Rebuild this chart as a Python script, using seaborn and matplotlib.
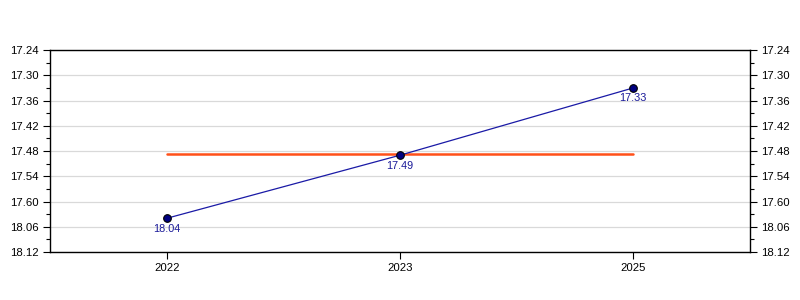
import matplotlib
matplotlib.use("Agg")
import matplotlib.pyplot as plt
import seaborn as sns
import pandas as pd
import numpy as np
from matplotlib.ticker import MultipleLocator

years = ["2022", "2023", "2025"]
times = ["18.04", "17.49", "17.33"]  # min.sec
tick_labels = ["17.24", "17.30", "17.36", "17.42", "17.48", "17.54", "17.60", "18.06", "18.12"]

def to_sec(s):
    m, sec = s.split(".")
    return int(m) * 60 + int(sec)

secs = [to_sec(t) for t in times]
mean_sec = float(np.mean(secs))
tick_vals = [1044 + 6 * i for i in range(len(tick_labels))]

df = pd.DataFrame({"year": years, "sec": secs, "mean": [mean_sec] * len(years)})

sns.set_theme(style="white")
plt.rcParams["font.family"] = ["Liberation Sans", "DejaVu Sans"]

fig = plt.figure(figsize=(8, 3), dpi=100)
ax = fig.add_axes([0.0625, 0.16, 0.875, 0.6733])

sns.lineplot(data=df, x="year", y="mean", ax=ax, color="#ff5019", linewidth=1.8, zorder=2)
sns.lineplot(data=df, x="year", y="sec", ax=ax, color="#1a1aa6", linewidth=0.9,
             marker="o", markersize=5.5, markerfacecolor="#000080", markeredgecolor="#000000",
             markeredgewidth=0.8, zorder=3)

for i, (s, t) in enumerate(zip(secs, times)):
    ax.annotate(t, (i, s), xytext=(0, -7.5), textcoords="offset points",
                ha="center", va="center", fontsize=7.8, color="#1a1a99")

ax.set_xlim(-0.5, 2.5)
ax.set_ylim(1092, 1044)
ax.set_yticks(tick_vals)
ax.set_yticklabels(tick_labels)
ax.yaxis.set_minor_locator(MultipleLocator(3))
ax.set_xlabel("")
ax.set_ylabel("")
ax.grid(axis="y", which="major", color="#d9d9d9", linewidth=0.9)
ax.grid(axis="x", visible=False)
ax.set_axisbelow(True)

for sp in ax.spines.values():
    sp.set_visible(True)
    sp.set_color("black")
    sp.set_linewidth(1.0)

ax.tick_params(axis="y", which="major", left=True, right=True, labelleft=True, labelright=True,
               length=5, width=0.8, color="black", labelsize=8.2, labelcolor="black", pad=3)
ax.tick_params(axis="y", which="minor", left=True, right=True, length=3, width=0.8, color="black")
ax.tick_params(axis="x", which="major", bottom=True, length=5, width=0.8, color="black",
               labelsize=8.2, labelcolor="black", pad=3)

fig.savefig("out.png", dpi=100)
